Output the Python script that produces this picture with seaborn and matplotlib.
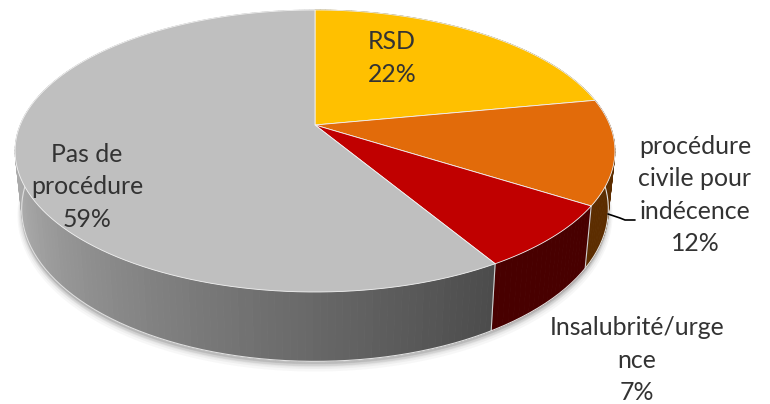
import numpy as np
import matplotlib
matplotlib.use("Agg")
import matplotlib.pyplot as plt
import seaborn as sns

# -------------------------------
# Data
# -------------------------------
categories = ["RSD", "procédure\ncivile pour\nindécence", "Insalubrité/urge\nnce", "Pas de\nprocédure"]
values = [22.0, 12.0, 7.4, 58.6]
top_colors = ["#FFC000", "#E26B0A", "#C00000", "#BFBFBF"]
side_colors = ["#7F6000", "#5C2D00", "#480000", "#808080"]
label_pos = [(392, 58), (695, 195), (637, 360), (87, 187)]


# -------------------------------
# Perspective of the pie (image pixels)
# -------------------------------
def rim(angle):
    # angle in radians, clockwise from 12 o'clock
    u, v = np.sin(angle), np.cos(angle)
    d = 1 + 0.1844 * v
    return 315 + 294.8 * u / d, (125 - 113.16 * v) / d


def lower(x, y):
    return 315 + (x - 315) * 0.978, y * 1.08 + 46


sns.set_theme(style="white")
plt.rcParams["font.family"] = ["Lato", "DejaVu Sans"]

fig, ax = plt.subplots(figsize=(7.7, 4.04), dpi=100)
fig.subplots_adjust(0, 0, 1, 1)
ax.set_xlim(0, 770)
ax.set_ylim(404, 0)
ax.axis("off")

edges = np.radians(np.cumsum([0] + values) * 3.6)

# soft shadow under the pie
t = np.linspace(0, 2 * np.pi, 360)
lx, ly = lower(*rim(t))
for grow, alpha in zip([6, 4.5, 3, 1.5], [0.04, 0.05, 0.07, 0.09]):
    ax.fill(lx, ly + grow, color="#404040", alpha=alpha, lw=grow, zorder=1)

# -------------------------------
# Side wall, strip by strip
# -------------------------------
grey_ramp = sns.blend_palette(["#4C4C4C", "#7A7A7A", "#AAAAAA"], 200)
for i in range(len(values)):
    a = np.linspace(edges[i], edges[i + 1], max(int(values[i] * 3), 2) + 1)
    for a0, a1 in zip(a[:-1], a[1:]):
        x0, y0 = rim(a0)
        x1, y1 = rim(a1)
        x2, y2 = lower(x1, y1)
        x3, y3 = lower(x0, y0)
        if i == 3:
            frac = min(max((a0 - edges[3]) / np.radians(100), 0), 1)
            color = grey_ramp[min(int(frac * 199), 199)]
        else:
            color = side_colors[i]
        ax.fill([x0, x1, x2, x3], [y0, y1, y2, y3], color=color, lw=0.6, zorder=2)
    # light line down the wall at the slice border
    x0, y0 = rim(edges[i])
    x3, y3 = lower(x0, y0)
    if np.cos(edges[i]) < 0:
        ax.plot([x0, x3], [y0, y3], color="#D0D0D0", lw=0.8, zorder=3)

# light rim along the bottom of the wall
ax.plot(*lower(*rim(np.linspace(edges[2] - 0.75, edges[3] + 2.3, 200))), color="#E0E0E0", lw=0.8, zorder=3)

# -------------------------------
# Top face
# -------------------------------
for i in range(len(values)):
    a = np.linspace(edges[i], edges[i + 1], 120)
    x, y = rim(a)
    ax.fill(np.r_[315, x], np.r_[125, y], facecolor=top_colors[i],
            edgecolor="#F2F2F2", lw=0.6, zorder=4)

# -------------------------------
# Labels
# -------------------------------
for name, val, (px, py) in zip(categories, values, label_pos):
    ax.text(px, py, f"{name}\n{round(val)}%", ha="center", va="center", fontsize=17.9,
            color="#333333", linespacing=1.5, zorder=5)

# leader line of the orange slice
ax.plot([608, 620, 625, 635], [214, 218, 220, 220], color="black", lw=1.2, zorder=5)

plt.savefig("out.png", dpi=100)
